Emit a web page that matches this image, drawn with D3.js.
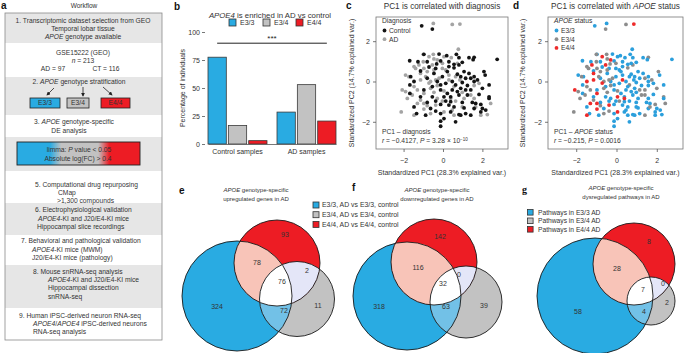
<!DOCTYPE html>
<html>
<head>
    <meta charset="utf-8">
    <title>APOE genotype-specific analysis</title>
    <style>
        body { margin: 0; background: #ffffff; }
        svg { font-family: "Liberation Sans", Arial, Helvetica, sans-serif; }
        .axis text { font-size: 7px; fill: #333; }
        .axis line, .axis path { stroke: #555; stroke-width: 0.8; }
    </style>
    <script src="https://d3js.org/d3.v7.min.js"></script>
</head>
<body>
<div id="figure"></div>
<script>
// ---------- data ----------
var genotypes = ["E3/3", "E3/4", "E4/4"];
var sampleGroups = ["Control samples", "AD samples"];
var controlPct = [77.5, 16.5, 3];
var adPct = [28.5, 53, 20.5];
var pctTicks = [0, 25, 50, 75, 100];
var pcTicks = [-2, 0, 2];

// PCA scores: [PC1, PC2, genotype index into genotypes]
var controlScores = [
    [-1.08, 2.76, 0], [-0.54, 2.60, 1], [-0.97, 1.35, 0], [-0.20, 1.36, 0], [0.19, 1.28, 0],
    [0.68, 1.35, 0], [0.81, 1.18, 0], [1.32, 1.18, 0], [1.58, 1.20, 1], [1.53, 1.08, 0],
    [2.75, 1.10, 0], [-1.69, 1.03, 0], [-1.27, 0.98, 0], [-0.80, 0.98, 0], [-0.32, 0.87, 1],
    [-0.12, 1.02, 0], [0.30, 0.98, 0], [0.56, 0.85, 0], [0.98, 0.95, 0], [0.56, 0.68, 1],
    [-0.37, 0.65, 0], [-0.71, 0.72, 0], [-1.64, 0.24, 0], [-1.14, 0.52, 0], [-0.46, 0.40, 0],
    [0.22, 0.49, 0], [0.73, 0.36, 0], [0.90, 0.24, 0], [1.15, 0.16, 0], [1.41, 0.16, 1],
    [1.58, 0.24, 0], [2.08, 0.49, 1], [2.14, 0.32, 0], [-1.68, -0.17, 0], [-1.47, 0.00, 2],
    [-0.29, 0.00, 0], [-0.12, -0.17, 0], [0.14, -0.09, 0], [0.47, 0.00, 0], [0.64, -0.17, 1],
    [0.98, -0.05, 0], [1.24, -0.20, 0], [1.58, 0.00, 0], [1.75, 0.08, 1], [2.00, -0.34, 1],
    [2.34, -0.17, 0], [-1.68, -0.59, 0], [-0.97, -0.42, 0], [-0.12, -0.42, 0], [0.22, -0.59, 0],
    [0.47, -0.42, 0], [0.73, -0.50, 0], [0.81, -0.67, 0], [0.05, -0.76, 2], [0.39, -0.76, 0],
    [1.24, -0.67, 1], [1.83, -0.64, 0], [2.34, -0.76, 1], [-1.47, -1.26, 0], [-0.80, -1.04, 0],
    [-0.37, -0.97, 0], [-0.12, -1.14, 0], [0.14, -0.97, 1], [0.30, -1.17, 0], [0.56, -1.26, 0],
    [0.98, -1.04, 0], [1.07, -1.31, 0], [1.49, -1.04, 0], [1.92, -1.14, 1], [2.34, -0.84, 0],
    [2.00, -1.34, 0], [-1.34, -1.59, 0], [-0.88, -1.67, 0], [-0.37, -1.47, 1], [-0.12, -1.59, 0],
    [0.05, -1.84, 0], [0.39, -1.51, 0], [0.81, -1.64, 0], [1.15, -1.59, 0], [1.41, -1.67, 1],
    [1.92, -1.51, 0], [2.17, -1.42, 0], [-0.12, -1.97, 0], [-0.12, -2.22, 0], [0.64, -2.00, 0],
    [0.30, 0.74, 0], [0.81, 0.82, 1], [1.07, 0.49, 0], [1.32, 0.40, 0], [-0.03, 0.24, 0],
    [-0.80, 0.16, 0], [-0.54, -0.25, 0], [0.90, -0.34, 0], [1.41, -0.42, 1], [0.39, -1.00, 0],
    [-1.14, -0.76, 0], [-0.63, -1.34, 0], [1.58, -1.34, 0], [0.90, -1.67, 0], [-0.54, -0.76, 0],
    [1.15, -0.42, 1], [1.66, -1.09, 0]
];
var adScores = [
    [-0.49, 2.88, 0], [0.47, 2.83, 1], [0.86, 2.85, 2], [0.78, 1.60, 0], [-1.00, 1.35, 1],
    [-0.71, 1.23, 2], [-0.49, 1.35, 1], [-0.46, 1.12, 1], [0.05, 1.23, 0], [0.42, 1.18, 0],
    [-1.47, 0.74, 1], [-1.22, 0.82, 2], [-1.00, 0.98, 1], [-0.54, 0.82, 2], [-0.03, 0.90, 1],
    [0.73, 0.90, 0], [-1.14, 0.40, 2], [-0.80, 0.49, 1], [-0.46, 0.57, 1], [-0.03, 0.65, 0],
    [0.14, 0.57, 0], [-1.90, 0.32, 0], [-1.73, 0.24, 1], [-1.14, 0.08, 2], [-0.88, 0.24, 1],
    [-0.63, 0.00, 1], [-0.37, 0.08, 1], [-0.20, 0.16, 1], [0.30, 0.32, 0], [0.64, 0.24, 0],
    [0.86, 0.08, 0], [-0.29, -0.20, 1], [0.30, 0.08, 2], [-2.07, -0.42, 2], [-1.90, -0.50, 1],
    [-1.56, -0.67, 1], [-1.30, -0.42, 1], [-0.97, -0.59, 2], [-0.63, -0.34, 1], [-0.46, -0.54, 1],
    [0.05, -0.47, 1], [0.56, -0.25, 0], [1.58, -0.20, 0], [-1.14, -0.92, 1], [-0.97, -1.09, 2],
    [-0.80, -1.20, 1], [-1.30, -1.09, 2], [-0.03, -0.97, 0], [0.39, -0.84, 2], [0.64, -0.97, 0],
    [1.07, -0.84, 0], [1.41, -0.67, 1], [1.58, -0.84, 0], [1.66, -1.26, 1], [-0.63, -1.59, 1],
    [-0.97, -1.37, 2], [-2.12, -1.51, 1], [0.47, -1.42, 0], [0.98, -1.26, 0], [1.92, -1.67, 0],
    [2.25, -1.64, 0], [-1.47, -0.25, 1], [-0.71, -0.08, 2], [-1.81, -0.84, 1], [-0.29, -0.84, 0],
    [0.98, -0.54, 0], [-0.37, -1.17, 2], [0.05, -1.51, 2], [0.56, -1.67, 0], [-1.39, 0.65, 1],
    [-0.29, 1.07, 2], [-0.97, 0.65, 1], [-1.47, -1.67, 2], [2.42, -1.09, 1], [1.83, -0.09, 0]
];

// Venn region counts, order: E3/3 only, E3/4 only, E4/4 only, E3/3&E4/4, E3/3&E3/4, E3/4&E4/4, all three
var vennRegions = ["E3/3", "E3/4", "E4/4", "E3/3+E4/4", "E3/3+E3/4", "E3/4+E4/4", "all"];
var upGenes = [324, 11, 93, 78, 72, 2, 76];
var downGenes = [318, 39, 142, 116, 63, 0, 32];
var pathwayCounts = [58, 2, 8, 28, 4, 0, 7];

// ---------- setup ----------
var BLUE = "#29abe2", GREY = "#c2c2c2", RED = "#ed1c24";
var genoColor = d3.scaleOrdinal().domain(genotypes).range([BLUE, GREY, RED]);

var svg = d3.select("#figure").append("svg")
    .attr("width", 685)
    .attr("height", 353);
var defs = svg.append("defs");

// *text* -> italic
function rich(sel, str) {
    str.split("*").forEach(function(part, i) {
        if (part === "") return;
        var t = sel.append("tspan").text(part);
        if (i % 2 === 1) t.attr("font-style", "italic");
    });
    return sel;
}
function label(parent, x, y, str, size, anchor) {
    var t = parent.append("text")
        .attr("x", x).attr("y", y).attr("dy", "0.35em")
        .attr("font-size", size)
        .attr("text-anchor", anchor || "start")
        .attr("fill", "#333");
    return rich(t, str);
}
function letter(x, y, ch, serif) {
    svg.append("text").attr("x", x).attr("y", y).attr("dy", "0.35em")
        .attr("font-size", 10).attr("font-weight", "bold").attr("fill", "#111")
        .attr("font-family", serif ? "'Liberation Serif', 'DejaVu Serif', serif" : null)
        .text(ch);
}
var intFmt = d3.format("d");

// ---------- a: workflow ----------
var ga = svg.append("g");
letter(1, 5, "a");
label(ga, 84, 6, "Workflow", 6.5, "middle");

var wfBands = [[13, 43, 1], [43, 77, 0], [77, 115, 1], [115, 137, 0], [137, 171, 1],
               [171, 203, 0], [203, 235, 1], [235, 265, 0], [265, 308, 1], [308, 340, 0]];
ga.selectAll(".band").data(wfBands).enter().append("rect")
    .attr("x", 5).attr("width", 157)
    .attr("y", function(d) { return d[0]; })
    .attr("height", function(d) { return d[1] - d[0]; })
    .attr("fill", function(d) { return d[2] ? "#e6e6e6" : "#ffffff"; });
ga.append("rect").attr("x", 5).attr("y", 13).attr("width", 157).attr("height", 327)
    .attr("fill", "none").attr("stroke", "#8a8a8a").attr("stroke-width", 0.8);

var wfLines = [
    ["1. Transcriptomic dataset selection from GEO", 83, 21, "middle"],
    ["Temporal lobar tissue", 83, 29, "middle"],
    ["*APOE* genotype available", 83, 37, "middle"],
    ["GSE15222 (GEO)", 83, 53, "middle"],
    ["*n* = 213", 83, 61, "middle"],
    ["AD = 97", 53, 69, "middle"],
    ["CT = 116", 106, 69, "middle"],
    ["2. *APOE* genotype stratification", 79, 82, "middle"],
    ["3. *APOE* genotype-specific", 74, 122, "middle"],
    ["DE analysis", 69, 131, "middle"],
    ["5. Computational drug repurposing", 35, 185, "start"],
    ["CMap", 58, 193, "start"],
    [">1,300 compounds", 57, 201, "start"],
    ["6. Electrophysiological validation", 35, 210, "start"],
    ["*APOE4*-KI and J20/E4-KI mice", 38, 219, "start"],
    ["Hippocampal slice recordings", 37, 227, "start"],
    ["7. Behavioral and pathological validation", 21, 241, "start"],
    ["*APOE4*-KI mice (MWM)", 32, 250, "start"],
    ["J20/E4-KI mice (pathology)", 32, 258, "start"],
    ["8. Mouse snRNA-seq analysis", 33, 272, "start"],
    ["*APOE4*-KI and J20/E4-KI mice", 48, 280, "start"],
    ["Hippocampal dissection", 48, 288, "start"],
    ["snRNA-seq", 48, 297, "start"],
    ["9. Human iPSC-derived neuron RNA-seq", 19, 316, "start"],
    ["*APOE4*/*APOE4* iPSC-derived neurons", 33, 324, "start"],
    ["RNA-seq analysis", 33, 332, "start"]
];

// arrows and genotype boxes
defs.append("marker").attr("id", "arr").attr("viewBox", "0 0 10 10")
    .attr("refX", 8).attr("refY", 5).attr("markerWidth", 5).attr("markerHeight", 5)
    .attr("orient", "auto")
    .append("path").attr("d", "M0,0L10,5L0,10z").attr("fill", "#222");
[[54, 88, 47, 95], [83, 87, 83, 96], [103, 87, 112, 95]].forEach(function(a) {
    ga.append("line").attr("x1", a[0]).attr("y1", a[1]).attr("x2", a[2]).attr("y2", a[3])
        .attr("stroke", "#222").attr("stroke-width", 0.8).attr("marker-end", "url(#arr)");
});
var wfBoxes = [[30, 60], [67, 89], [101, 130]];
genotypes.forEach(function(gt, i) {
    var b = wfBoxes[i];
    ga.append("rect").attr("x", b[0]).attr("y", 98).attr("width", b[1] - b[0]).attr("height", 10)
        .attr("fill", genoColor(gt)).attr("stroke", "#222").attr("stroke-width", 0.8);
    label(ga, (b[0] + b[1]) / 2, 103, gt, 6.7, "middle");
});

var grad = defs.append("linearGradient").attr("id", "deGrad");
[[0, BLUE], [0.27, BLUE], [0.36, GREY], [0.66, GREY], [0.75, RED], [1, RED]].forEach(function(s) {
    grad.append("stop").attr("offset", s[0]).attr("stop-color", s[1]);
});
ga.append("rect").attr("x", 17).attr("y", 142).attr("width", 123).attr("height", 23)
    .attr("fill", "url(#deGrad)").attr("stroke", "#222").attr("stroke-width", 0.9);
wfLines.push(["limma: *P* value < 0.05", 79, 150, "middle"]);
wfLines.push(["Absolute log(FC) > 0.4", 78, 158.5, "middle"]);

wfLines.forEach(function(l) { label(ga, l[1], l[2], l[0], 6.7, l[3]); });

// ---------- b: bar chart ----------
var gb = svg.append("g");
letter(174, 6, "b");
label(gb, 270, 15, "*APOE4* is enriched in AD vs control", 7.8, "middle");

var x0 = d3.scaleBand().domain(sampleGroups).range([208, 336]).paddingInner(0.145);
var x1 = d3.scaleBand().domain(genotypes).range([0, x0.bandwidth()]).paddingInner(0.1);
var yb = d3.scaleLinear().domain([0, 100]).range([144, 32]);

var legX = [229, 263, 296];
genotypes.forEach(function(gt, i) {
    gb.append("rect").attr("x", legX[i]).attr("y", 19).attr("width", 7).attr("height", 7)
        .attr("fill", genoColor(gt)).attr("stroke", "#333").attr("stroke-width", 0.8);
    label(gb, legX[i] + 11, 22.5, gt, 7);
});

var barData = [];
sampleGroups.forEach(function(grp, i) {
    var vals = i === 0 ? controlPct : adPct;
    genotypes.forEach(function(gt, j) { barData.push({ group: grp, geno: gt, value: vals[j] }); });
});
gb.selectAll(".bar").data(barData).enter().append("rect")
    .attr("x", function(d) { return x0(d.group) + x1(d.geno); })
    .attr("y", function(d) { return yb(d.value); })
    .attr("width", x1.bandwidth())
    .attr("height", function(d) { return yb(0) - yb(d.value); })
    .attr("fill", function(d) { return genoColor(d.geno); })
    .attr("stroke", "#3a3a3a").attr("stroke-width", 0.8);

gb.append("g").attr("class", "axis").attr("transform", "translate(205,0)")
    .call(d3.axisLeft(yb).tickValues(pctTicks).tickFormat(intFmt).tickSize(3).tickPadding(2))
    .call(function(a) { a.select(".domain").remove(); });
gb.append("g").attr("class", "axis").attr("transform", "translate(0,144)")
    .call(d3.axisBottom(x0).tickSize(0).tickSizeOuter(0).tickPadding(5));
gb.append("text").attr("transform", "translate(183,88) rotate(-90)")
    .attr("text-anchor", "middle").attr("dy", "0.35em").attr("font-size", 7).attr("fill", "#333")
    .text("Percentage of individuals");

// significance bar between first and last bars
var sigX1 = x0(sampleGroups[0]) + x1(genotypes[0]) + x1.bandwidth() / 2;
var sigX2 = x0(sampleGroups[1]) + x1(genotypes[2]) + x1.bandwidth() / 2;
gb.append("line").attr("x1", sigX1).attr("x2", sigX2).attr("y1", yb(90)).attr("y2", yb(90))
    .attr("stroke", "#222").attr("stroke-width", 1);
gb.append("text").attr("x", (sigX1 + sigX2) / 2).attr("y", yb(90) - 2)
    .attr("text-anchor", "middle").attr("font-size", 8).attr("fill", "#222")
    .text("***");

// ---------- c / d: PCA scatter ----------
function pcaPanel(opts) {
    var g = svg.append("g");
    var xs = d3.scaleLinear().domain([-3.4, 3.3]).range([opts.left, opts.right]);
    var ys = d3.scaleLinear().domain([-3.35, 3.2]).range([149, 17]);
    g.append("rect").attr("x", opts.left).attr("y", 17)
        .attr("width", opts.right - opts.left).attr("height", 132)
        .attr("fill", "none").attr("stroke", "#777").attr("stroke-width", 0.8);
    g.append("g").attr("class", "axis").attr("transform", "translate(0,149)")
        .call(d3.axisBottom(xs).tickValues(pcTicks).tickFormat(intFmt).tickSize(3).tickPadding(6))
        .call(function(a) { a.select(".domain").remove(); });
    g.append("g").attr("class", "axis").attr("transform", "translate(" + opts.left + ",0)")
        .call(d3.axisLeft(ys).tickValues(pcTicks).tickFormat(intFmt).tickSize(3).tickPadding(3))
        .call(function(a) { a.select(".domain").remove(); });
    g.append("text").attr("x", (opts.left + opts.right) / 2).attr("y", 173).attr("dy", "0.35em")
        .attr("text-anchor", "middle").attr("font-size", 7).attr("fill", "#333")
        .text("Standardized PC1 (28.3% explained var.)");
    g.append("text").attr("transform", "translate(" + opts.ylabX + ",83) rotate(-90)")
        .attr("text-anchor", "middle").attr("dy", "0.35em").attr("font-size", 7).attr("fill", "#333")
        .text("Standardized PC2 (14.7% explained var.)");
    label(g, (opts.left + opts.right) / 2, 6, opts.title, 8.2, "middle");

    g.selectAll(".pt").data(opts.points).enter().append("circle")
        .attr("cx", function(d) { return xs(d[0]); })
        .attr("cy", function(d) { return ys(d[1]); })
        .attr("r", 1.9)
        .attr("fill", opts.color);

    var lx = opts.left + 6;
    label(g, lx, 21, opts.legendTitle, 6.7);
    opts.legend.forEach(function(item, i) {
        g.append("circle").attr("cx", lx + 2.5).attr("cy", 30.5 + i * 8.7).attr("r", 1.9).attr("fill", item[1]);
        label(g, lx + 7, 30.5 + i * 8.7, item[0], 6.7);
    });
    label(g, lx, 132, opts.note1, 6.7);
    var t = label(g, lx, 141, opts.note2, 6.7);
    if (opts.sup) {
        t.append("tspan").attr("dy", "-0.45em").attr("font-size", 4.5).text(opts.sup);
    }
    return g;
}

var CTRL = "#141414", ADC = "#a4a4a4";
var dColors = ["#2b9fdc", "#8c8c8c", "#ee2b2b"];
letter(346, 5, "c");
pcaPanel({
    left: 376, right: 508, ylabX: 352,
    title: "PC1 is correlated with diagnosis",
    points: adScores.map(function(p) { return [p[0], p[1], "AD"]; })
        .concat(controlScores.map(function(p) { return [p[0], p[1], "Control"]; })),
    color: function(d) { return d[2] === "AD" ? ADC : CTRL; },
    legendTitle: "Diagnosis",
    legend: [["Control", CTRL], ["AD", ADC]],
    note1: "PC1 – diagnosis",
    note2: "*r* = −0.4127, *P* = 3.28 × 10",
    sup: "−10"
});

letter(513, 5, "d");
pcaPanel({
    left: 548, right: 683, ylabX: 523,
    title: "PC1 is correlated with *APOE* status",
    points: controlScores.concat(adScores),
    color: function(d) { return dColors[d[2]]; },
    legendTitle: "*APOE* status",
    legend: genotypes.map(function(gt, i) { return [gt, dColors[i]]; }),
    note1: "PC1 – *APOE* status",
    note2: "*r* = −0.215, *P* = 0.0016"
});

// ---------- e / f / g: Venn diagrams ----------
var PINK = "#f8c4b8", LBLUE = "#72c1e7", LAV = "#e4e6f8";
function vennPanel(id, c, counts, pos, title1, title2, tx, ty) {
    var g = svg.append("g");
    ["b", "g", "r"].forEach(function(k) {
        defs.append("clipPath").attr("id", id + k).append("circle")
            .attr("cx", c[k][0]).attr("cy", c[k][1]).attr("r", c[k][2]);
    });
    function circ(parent, k, fill) {
        return parent.append("circle").attr("cx", c[k][0]).attr("cy", c[k][1]).attr("r", c[k][2])
            .attr("fill", fill);
    }
    circ(g, "b", BLUE);
    circ(g, "g", GREY);
    circ(g, "r", RED);
    circ(g, "r", PINK).attr("clip-path", "url(#" + id + "b)");
    circ(g, "g", LBLUE).attr("clip-path", "url(#" + id + "b)");
    circ(g, "g", LAV).attr("clip-path", "url(#" + id + "r)");
    var inner = g.append("g").attr("clip-path", "url(#" + id + "b)");
    circ(inner, "g", "#ffffff").attr("clip-path", "url(#" + id + "r)");
    ["b", "g", "r"].forEach(function(k) {
        circ(g, k, "none").attr("stroke", "#1a1a1a").attr("stroke-width", 0.9);
    });
    counts.forEach(function(v, i) {
        label(g, pos[i][0], pos[i][1], String(v), 7, "middle");
    });
    label(g, tx, ty, title1, 6, "middle");
    label(g, tx, ty + 9, title2, 6, "middle");
}

letter(179, 190, "e");
vennPanel("ve",
    { b: [237, 296, 55], g: [297, 299, 37.5], r: [277, 263, 43] },
    upGenes,
    [[217, 307], [318, 306], [285, 235], [257, 263], [284, 311], [307, 271], [282, 282]],
    "*APOE* genotype-specific", "upregulated genes in AD", 256, 190);

letter(352, 187, "f");
vennPanel("vf",
    { b: [407, 296, 54], g: [466, 302, 36], r: [434, 262, 43] },
    downGenes,
    [[379, 307], [484, 306], [440, 237], [418, 268], [446, 307], [459, 275], [443, 284]],
    "*APOE* genotype-specific", "downregulated genes in AD", 437, 190);

letter(522, 189, "g", true);
vennPanel("vg",
    { b: [595, 296, 58], g: [651, 301, 24], r: [634, 264, 41] },
    pathwayCounts,
    [[578, 312], [667, 303], [649, 242], [617, 269], [644, 312], [663, 284], [643, 290]],
    "*APOE* genotype-specific", "dysregulated pathways in AD", 621, 188);

// Venn legends
var legE = genotypes.map(function(gt) { return gt + ", AD vs " + gt + ", control"; });
genotypes.forEach(function(gt, i) {
    var y = 205 + i * 9.7;
    svg.append("rect").attr("x", 313).attr("y", y - 3).attr("width", 6).attr("height", 6)
        .attr("fill", genoColor(gt)).attr("stroke", "#333").attr("stroke-width", 0.8);
    label(svg, 322, y, legE[i], 6.9);
});
genotypes.forEach(function(gt, i) {
    var y = 212.3 + i * 8.5;
    svg.append("rect").attr("x", 527.5).attr("y", y - 2.8).attr("width", 5.6).attr("height", 5.6)
        .attr("fill", genoColor(gt)).attr("stroke", "#333").attr("stroke-width", 0.8);
    label(svg, 538, y, "Pathways in " + gt + " AD", 6.7);
});
</script>
</body>
</html>
